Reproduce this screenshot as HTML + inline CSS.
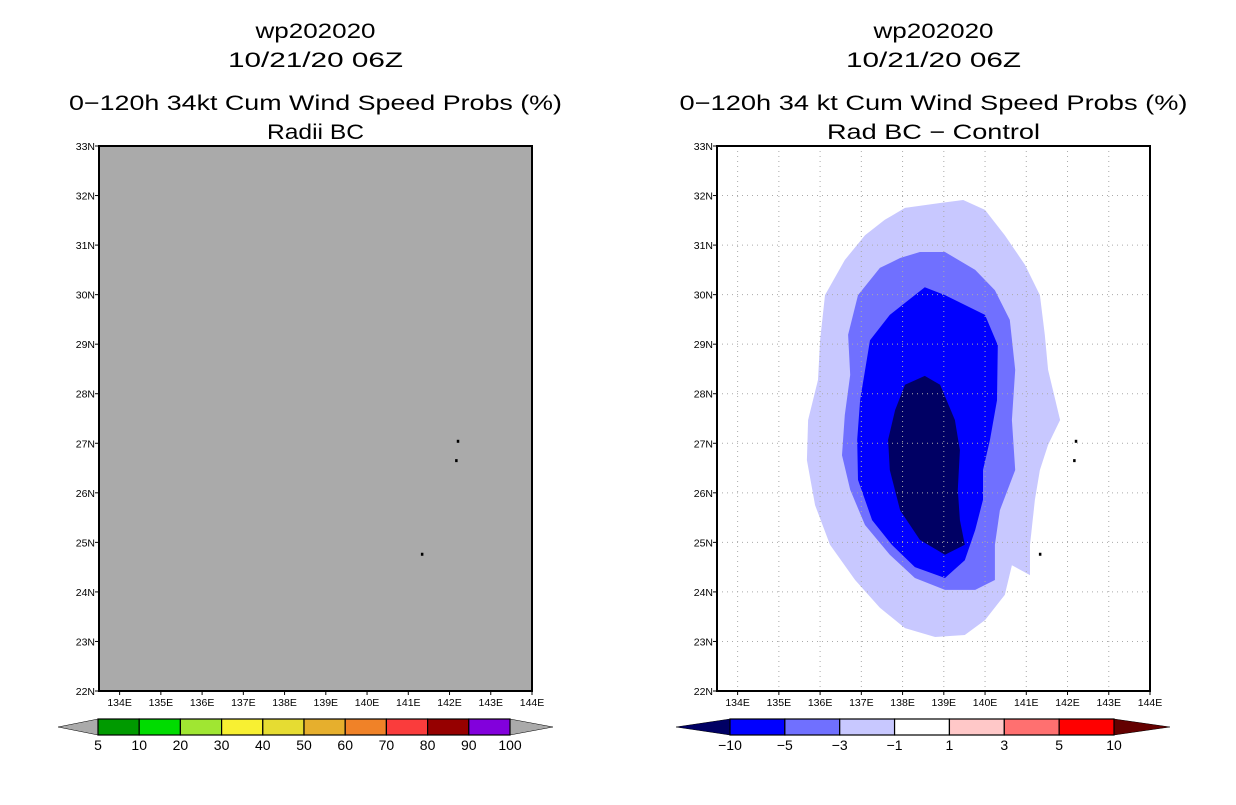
<!DOCTYPE html>
<html><head><meta charset="utf-8"><style>
body{margin:0;background:#fff;width:1236px;height:800px;overflow:hidden;font-family:"Liberation Sans",sans-serif}
svg text{font-family:"Liberation Sans",sans-serif}
</style></head><body>
<svg id="c" width="1236" height="800" xmlns="http://www.w3.org/2000/svg"></svg>
<script>
const lonTicks=[134,135,136,137,138,139,140,141,142,143,144];
const latTicks=[22,23,24,25,26,27,28,29,30,31,32,33];
const leftLevels=["5","10","20","30","40","50","60","70","80","90","100"];
const leftColors=["#009a00","#00dc00","#a0e632","#f8f032","#e6dc32","#e6af2d","#f08228","#fa3c3c","#960000","#8200dc"];
const rightLevels=["−10","−5","−3","−1","1","3","5","10"];
const rightColors=["#0000ff","#7070ff","#c8c8ff","#ffffff","#ffc8c8","#ff7070","#ff0000"];
const lightLon=[138.06,138.91,139.47,140.0,140.48,140.97,141.33,141.45,141.53,141.82,141.53,141.33,141.21,141.09,141.09,140.65,140.48,140.0,139.51,138.79,138.06,137.45,136.85,136.24,135.88,135.68,135.71,135.95,136.0,136.12,136.6,137.09,137.57];
const lightLat=[31.75,31.85,31.91,31.71,31.2,30.6,29.99,29.19,28.48,27.47,26.97,26.46,25.86,24.95,24.34,24.54,23.94,23.43,23.13,23.09,23.27,23.68,24.24,24.95,25.75,26.66,27.47,28.28,29.08,29.99,30.7,31.2,31.51];
const medLon=[138.42,139.03,139.76,140.24,140.6,140.73,140.65,140.73,140.36,140.24,140.24,139.76,139.03,138.3,137.69,137.09,136.73,136.53,136.6,136.73,136.68,136.92,137.45,137.94];
const medLat=[30.86,30.86,30.5,30.09,29.49,28.48,27.47,26.46,25.65,24.95,24.24,24.04,24.04,24.28,24.75,25.35,26.06,26.76,27.57,28.38,29.19,29.99,30.54,30.74];
const blueLon=[138.54,139.03,140.0,140.31,140.29,140.12,139.95,139.95,139.76,139.51,139.03,138.3,137.74,137.26,136.92,136.9,136.97,137.21,137.69];
const blueLat=[30.15,29.99,29.59,28.98,27.87,27.07,26.46,25.86,25.25,24.64,24.28,24.5,24.95,25.45,26.26,27.07,27.87,29.08,29.59];
const darkLon=[138.54,138.91,139.27,139.39,139.34,139.39,139.51,139.03,138.42,137.94,137.69,137.65,137.82,138.06];
const darkLat=[28.36,28.18,27.47,26.86,26.06,25.45,24.95,24.75,25.05,25.65,26.46,27.07,27.67,28.18];
const islandLon=[142.2,142.16,141.33];
const islandLat=[27.05,26.66,24.77];

const S=document.getElementById('c'),NS="http://www.w3.org/2000/svg";
function mk(t,a,p){const e=document.createElementNS(NS,t);for(const k in a)e.setAttribute(k,a[k]);(p||S).appendChild(e);return e;}
function txt(x,y,s,size,anchor,name,len){const e=mk('text',{x:x,y:y,'font-size':size,'text-anchor':anchor||'middle',fill:'#000'});e.textContent=s;
if(len){e.setAttribute('textLength',len);e.setAttribute('lengthAdjust','spacingAndGlyphs');}

return e;}
const plotTop=146,plotBot=691,lon0=133.5,lon1=144;
function panel(x0,title3,title4,isRight,len3,len4){
  const x1=x0+433;
  const X=l=>x0+(l-lon0)/(lon1-lon0)*(x1-x0);
  const Y=l=>plotTop+(33-l)/11*(plotBot-plotTop);
  const cx=(x0+x1)/2;
  txt(cx,38,"wp202020",21,'middle','title-storm',120);
  txt(cx,67,"10/21/20 06Z",21,'middle','title-date',175);
  txt(cx,110,title3,21,'middle','title-product',len3);
  txt(cx,139,title4,21,'middle','title-subtitle',len4);
  const bg=mk('rect',{x:x0,y:plotTop,width:x1-x0,height:plotBot-plotTop,fill:isRight?'#fff':'#aaaaaa'});
  
  
  if(isRight){
    const shapes=[[lightLon,lightLat,"#c8c8ff","contour-minus1"],[medLon,medLat,"#7070ff","contour-minus3"],[blueLon,blueLat,"#0000ff","contour-minus5"],[darkLon,darkLat,"#000064","contour-minus10"]];
    shapes.forEach(s=>{
      const pts=s[0].map((l,i)=>X(l).toFixed(1)+","+Y(s[1][i]).toFixed(1)).join(" ");
      const p=mk('polygon',{points:pts,fill:s[2]});
      
      
    });
    lonTicks.slice(0,-1).forEach(l=>{const g=mk('line',{x1:X(l),x2:X(l),y1:plotTop,y2:plotBot,stroke:'#aaa','stroke-dasharray':'1,4'});
      
      });
    latTicks.slice(1,-1).forEach(l=>{const g=mk('line',{x1:x0,x2:x1,y1:Y(l),y2:Y(l),stroke:'#aaa','stroke-dasharray':'1,4'});
      
      });
  }
  islandLon.forEach((l,i)=>{const r=mk('rect',{x:X(l)-1,y:Y(islandLat[i])-1,width:2.5,height:3,fill:'#000'});
    
    });
  const b=mk('rect',{x:x0,y:plotTop,width:x1-x0,height:plotBot-plotTop,fill:'none',stroke:'#000','stroke-width':2});
  
  
  lonTicks.forEach(l=>{mk('line',{x1:X(l),x2:X(l),y1:plotBot,y2:plotBot+4,stroke:'#000'});txt(X(l),plotBot+15,l+"E",10.5,'middle','lon-tick-label');});
  latTicks.forEach(l=>{mk('line',{x1:x0-4,x2:x0,y1:Y(l),y2:Y(l),stroke:'#000'});txt(x0-4,Y(l)+4,l+"N",10.5,'end','lat-tick-label');});
}
panel(99,"0−120h 34kt Cum Wind Speed Probs (%)","Radii BC",false,493,97);
panel(717,"0−120h 34 kt Cum Wind Speed Probs (%)","Rad BC − Control",true,508,213);

function colorbar(xa,xb,colors,levels,triL,triR,colL,colR,name){
  const y0=719,y1=735,n=colors.length,w=(xb-xa)/n;
  const tl=mk('polygon',{points:`${xa},${y0} ${xa},${y1} ${triL},${(y0+y1)/2}`,fill:colL,stroke:'#000','stroke-width':0.5});
  
  
  const tr=mk('polygon',{points:`${xb},${y0} ${xb},${y1} ${triR},${(y0+y1)/2}`,fill:colR,stroke:'#000','stroke-width':0.5});
  
  
  colors.forEach((c,i)=>{const r=mk('rect',{x:xa+i*w,y:y0,width:w,height:y1-y0,fill:c,stroke:'#000','stroke-width':1.2});
    
    });
  levels.forEach((s,i)=>txt(xa+i*w,y1+15,s,14,'middle',name+'-label'));
}
colorbar(98,510,leftColors,leftLevels,58,553,'#aaaaaa','#aaaaaa','left-colorbar');
colorbar(730,1114,rightColors,rightLevels,676,1170,'#000064','#640000','right-colorbar');
</script>
</body></html>
